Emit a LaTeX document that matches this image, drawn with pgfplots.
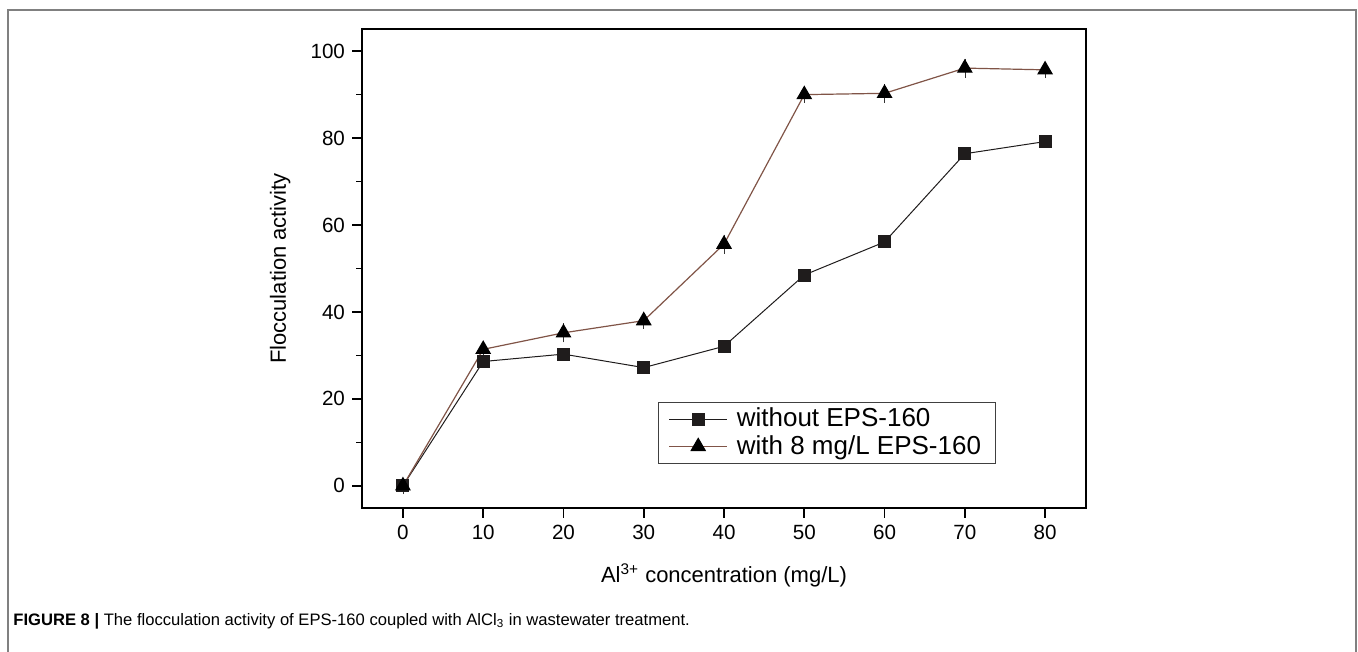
\documentclass[border=0pt]{standalone}
\usepackage{fontspec}
\setmainfont{Liberation Sans}
\usepackage{pgfplots}
\pgfplotsset{compat=1.18}
\definecolor{trline}{rgb}{0.50,0.33,0.28}
\definecolor{mk}{rgb}{0.12,0.11,0.11}
\begin{document}
\begin{tikzpicture}
\draw[black!50, line width=0.75pt] (4pt,0pt) -- (4pt,321pt) -- (678pt,321pt) -- (678pt,0pt);
\begin{axis}[
  at={(181pt,72pt)}, anchor=south west,
  scale only axis, width=362pt, height=239.5pt,
  xmin=-5.1, xmax=85.1, ymin=-5.1, ymax=105.1,
  xtick={0,10,...,80}, ytick={0,20,...,100}, minor ytick={10,30,...,90},
  xtick pos=bottom, ytick pos=left,
  tick align=outside,
  major tick length=5pt, minor tick length=3pt,
  axis line style={line width=1pt},
  tick style={black, line width=0.8pt},
  tick label style={font=\fontsize{10.3}{12}\selectfont},
  /pgf/number format/assume math mode=true,
  xlabel={Al\textsuperscript{3+} concentration (mg/L)},
  ylabel={Flocculation activity},
  label style={font=\fontsize{11}{13}\selectfont},
  xlabel style={at={(axis description cs:0.5,-0.14)}, anchor=center},
  ylabel style={at={(axis description cs:-0.113,0.5)}, anchor=center},
  legend style={at={(axis description cs:0.409,0.092)}, anchor=south west, draw=black!75, line width=0.5pt, font=\fontsize{13}{14}\selectfont, inner xsep=5pt, inner ysep=1pt, row sep=-1.2pt},
  legend cell align=left,
  legend image code/.code={\draw[mark repeat=2, mark phase=2] plot coordinates {(0pt,0pt) (14.5pt,0pt) (29pt,0pt)}; \path (31.5pt,0pt);},
]
\addplot[mk, line width=0.5pt, mark=square*, mark size=3pt, mark options={fill=mk, draw=mk}]
  coordinates {(0,0) (10,28.6) (20,30.3) (30,27.2) (40,32.1) (50,48.5) (60,56.1) (70,76.4) (80,79.2)};
\addlegendentry{without EPS-160}
\addplot[trline, line width=0.6pt, mark=triangle*, mark size=4pt, mark options={black, fill=black},
  error bars/.cd, y dir=both, y explicit, error bar style={black!80, line width=0.3pt}, error mark options={black!80, mark size=1.5pt, line width=0.3pt}]
  coordinates {(0,0) +- (0,1.2) (10,31.4) +- (0,1.2) (20,35.2) +- (0,1.5) (30,38.0) +- (0,1.2) (40,55.6) +- (0,1.5) (50,90.0) +- (0,1.2) (60,90.3) +- (0,1.5) (70,96.1) +- (0,1.5) (80,95.7) +- (0,1.2)};
\addlegendentry{with 8 mg/L EPS-160}
\end{axis}
\node[anchor=west, font=\fontsize{8.3}{10}\selectfont, inner sep=0pt] at (6.5pt,15.5pt) {\textbf{FIGURE 8 |} The flocculation activity of EPS-160 coupled with AlCl\textsubscript{3} in wastewater treatment.};
\pgfresetboundingbox
\path[use as bounding box] (0pt,0pt) rectangle (679pt,326pt);
\end{tikzpicture}
\end{document}
